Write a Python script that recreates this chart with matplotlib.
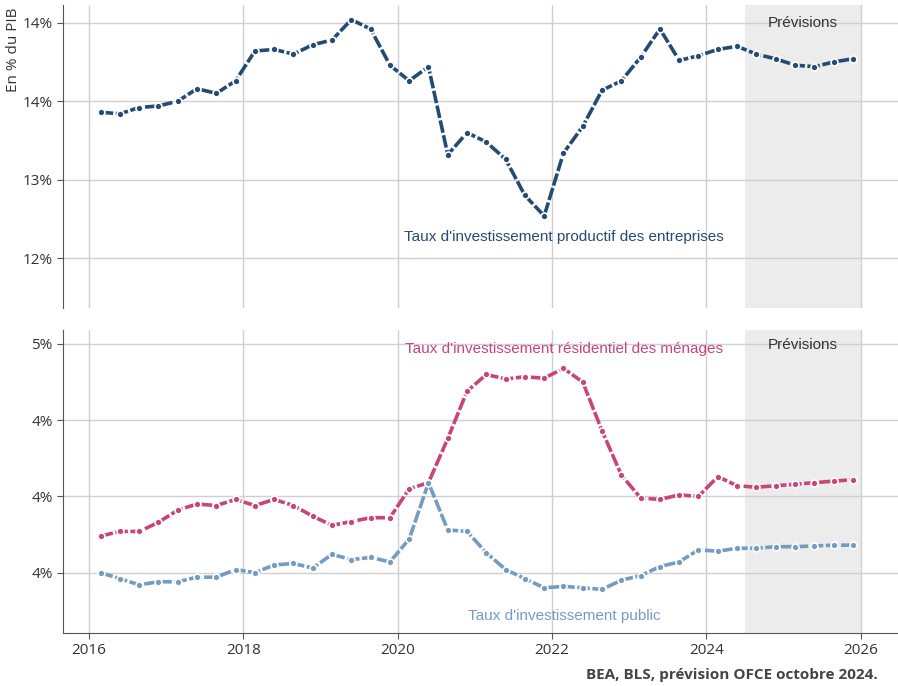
import matplotlib.pyplot as plt
import numpy as np

# quarterly data, 2016T1 -> 2025T4 (forecast from 2024T3)
quarters = [f"{y}T{q}" for y in range(2016, 2026) for q in range(1, 5)]

productif = [13.43, 13.42, 13.46, 13.47, 13.50, 13.58, 13.55, 13.63,
             13.82, 13.83, 13.80, 13.86, 13.89, 14.02, 13.96, 13.73,
             13.63, 13.72, 13.16, 13.30, 13.24, 13.13, 12.90, 12.77,
             13.17, 13.34, 13.57, 13.63, 13.78, 13.96, 13.76, 13.79,
             13.83, 13.85, 13.80, 13.77, 13.73, 13.72, 13.75, 13.77]

residentiel = [3.74, 3.77, 3.77, 3.83, 3.91, 3.95, 3.94, 3.98,
               3.94, 3.98, 3.94, 3.87, 3.81, 3.835, 3.86, 3.86,
               4.05, 4.09, 4.38, 4.69, 4.80, 4.77, 4.785, 4.775,
               4.84, 4.75, 4.43, 4.14, 3.99, 3.98, 4.01, 4.00,
               4.13, 4.07, 4.06, 4.07, 4.08, 4.09, 4.10, 4.11]

public = [3.50, 3.46, 3.42, 3.44, 3.44, 3.47, 3.47, 3.52,
          3.50, 3.55, 3.56, 3.53, 3.62, 3.585, 3.60, 3.57,
          3.72, 4.09, 3.78, 3.77, 3.63, 3.52, 3.46, 3.40,
          3.41, 3.40, 3.39, 3.45, 3.48, 3.54, 3.57, 3.65,
          3.64, 3.66, 3.66, 3.67, 3.67, 3.675, 3.68, 3.68]

x = np.array([int(s[:4]) + (int(s[-1]) - 1) * 0.25 + 0.15 for s in quarters])

c_prod = '#244b74'
c_res = '#c8457a'
c_pub = '#739cc0'
grid_c = '#d0d0d0'
txt_c = '#333333'

plt.rcParams['font.family'] = ['Open Sans', 'DejaVu Sans']

fig = plt.figure(figsize=(8.98, 6.86), dpi=100)
ax1 = fig.add_axes([0.0702, 0.551, 0.9298, 0.4417])
ax2 = fig.add_axes([0.0702, 0.0773, 0.9298, 0.4417])


def style(ax, yticks, ylim, bottom):
    ax.set_xlim(2015.663, 2026.486)
    ax.set_ylim(*ylim)
    ax.axvspan(2024.5, 2026, color='#ececec', zorder=0, lw=0)
    ax.set_yticks(yticks)
    ax.set_yticklabels([f"{v:.0f}%" for v in yticks])
    ax.set_xticks(range(2016, 2027, 2))
    ax.grid(True, color=grid_c, lw=1)
    ax.set_axisbelow(True)
    for s in ['top', 'right']:
        ax.spines[s].set_visible(False)
    ax.spines['left'].set_color('#555555')
    ax.spines['bottom'].set_color('#555555')
    ax.tick_params(colors='#555555', labelcolor=txt_c, labelsize=11, length=4)
    if not bottom:
        ax.spines['bottom'].set_visible(False)
        ax.tick_params(axis='x', bottom=False, labelbottom=False)


def draw(ax, y, c):
    ax.plot(x, y, color=c, lw=2.6, dashes=(3.5, 0.7), marker='o', ms=5,
            mfc=c, mec='white', mew=1.2, zorder=3)


style(ax1, [12.5, 13.0, 13.5, 14.0], (12.183, 14.113), False)
style(ax2, [3.5, 4.0, 4.5, 5.0], (3.104, 5.092), True)

draw(ax1, productif, c_prod)
draw(ax2, residentiel, c_res)
draw(ax2, public, c_pub)

ax1.text(2022.16, 12.635, "Taux d'investissement productif des entreprises",
         color=c_prod, fontsize=11, ha='center', va='center', family='Liberation Sans')
ax2.text(2022.16, 4.965, "Taux d'investissement résidentiel des ménages",
         color=c_res, fontsize=11, ha='center', va='center', family='Liberation Sans')
ax2.text(2022.16, 3.215, "Taux d'investissement public",
         color=c_pub, fontsize=11, ha='center', va='center', family='Liberation Sans')
ax1.text(2025.25, 14.0, "Prévisions", color=txt_c, fontsize=11,
         ha='center', va='center', family='Liberation Sans')
ax2.text(2025.25, 4.995, "Prévisions", color=txt_c, fontsize=11,
         ha='center', va='center', family='Liberation Sans')

fig.text(0.0145, 1 - 50 / 686, "En % du PIB", rotation=90, ha='center', va='center',
         color=txt_c, fontsize=11)
fig.text(0.978, 1 - 675 / 686, "BEA, BLS, prévision OFCE octobre 2024.", ha='right',
         va='center', color='#444444', fontsize=11, fontweight='bold')

fig.savefig('out.png', dpi=100)
